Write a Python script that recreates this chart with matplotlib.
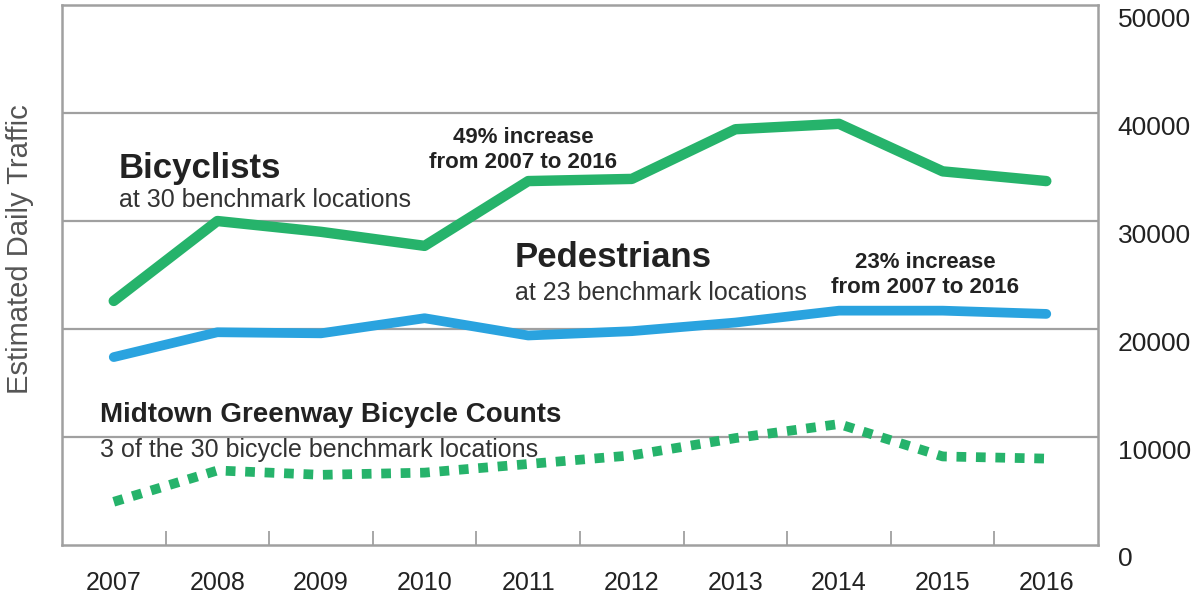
import matplotlib
matplotlib.use("Agg")
import matplotlib.pyplot as plt
import matplotlib.transforms as mtransforms

# Data
years = ["2007", "2008", "2009", "2010", "2011", "2012", "2013", "2014", "2015", "2016"]
bicyclists = [22600, 30000, 29000, 27700, 33700, 33900, 38500, 39000, 34600, 33700]
pedestrians = [17400, 19700, 19600, 21000, 19400, 19800, 20600, 21700, 21700, 21400]
greenway = [4000, 6900, 6500, 6700, 7500, 8300, 9900, 11200, 8200, 8000]
y_ticks = [0, 10000, 20000, 30000, 40000, 50000]

plt.rcParams['font.family'] = ['Liberation Sans', 'DejaVu Sans']

GREEN = '#26b36b'
BLUE = '#2aa3df'
GRID = '#a0a0a0'
TEXT = '#222222'

fig = plt.figure(figsize=(11.91, 5.94), dpi=100)
ax = fig.add_axes([0.052, 0.0825, 0.870, 0.909])

x = list(range(len(years)))
ax.plot(x, bicyclists, color=GREEN, lw=7.5, solid_capstyle='round', solid_joinstyle='round', zorder=3)
ax.plot(x, pedestrians, color=BLUE, lw=7, solid_capstyle='round', solid_joinstyle='round', zorder=3)
ax.plot(x, greenway, color=GREEN, lw=7, linestyle=(0, (1, 1)), dash_capstyle='butt', zorder=3)

ax.set_xlim(-0.5, len(years) - 0.5)
ax.set_ylim(0, 50000)

# grid
for v in y_ticks[1:-1]:
    ax.axhline(v, color=GRID, lw=1.6, zorder=1)

for s in ax.spines.values():
    s.set_color(GRID)
    s.set_linewidth(1.8)

ax.set_xticks(x)
ax.set_xticklabels(years, fontsize=18, color=TEXT)
ax.set_xticks([i + 0.5 for i in x[:-1]], minor=True)
ax.tick_params(axis='x', which='major', length=0, pad=19)
ax.tick_params(axis='x', which='minor', direction='in', length=10, width=1.3, color=GRID)

ax.yaxis.tick_right()
ax.set_yticks(y_ticks)
ax.set_yticklabels([str(v) for v in y_ticks], fontsize=19, color=TEXT)
ax.tick_params(axis='y', length=0, pad=14)
off = mtransforms.ScaledTranslation(0, -12 / 100, fig.dpi_scale_trans)
for lab in ax.get_yticklabels():
    lab.set_transform(lab.get_transform() + off)

fig.text(0.017, 0.58, "Estimated Daily Traffic", rotation=90, fontsize=21,
         color='#555555', ha='center', va='center')

# annotations
ax.text(0.05, 34000, "Bicyclists", fontsize=25, fontweight='bold', color=TEXT, va='baseline')
ax.text(0.05, 31300, "at 30 benchmark locations", fontsize=18, color='#333333', va='baseline')
ax.text(3.95, 34900, "49% increase\nfrom 2007 to 2016", fontsize=16, fontweight='bold',
        color=TEXT, ha='center', va='baseline', linespacing=1.25)
ax.text(3.87, 25700, "Pedestrians", fontsize=25, fontweight='bold', color=TEXT, va='baseline')
ax.text(3.87, 22700, "at 23 benchmark locations", fontsize=18, color='#333333', va='baseline')
ax.text(7.83, 23300, "23% increase\nfrom 2007 to 2016", fontsize=16, fontweight='bold',
        color=TEXT, ha='center', va='baseline', linespacing=1.25)
ax.text(-0.13, 11400, "Midtown Greenway Bicycle Counts", fontsize=20, fontweight='bold',
        color=TEXT, va='baseline')
ax.text(-0.13, 8150, "3 of the 30 bicycle benchmark locations", fontsize=18,
        color='#333333', va='baseline')

fig.savefig("out.png", dpi=100)
